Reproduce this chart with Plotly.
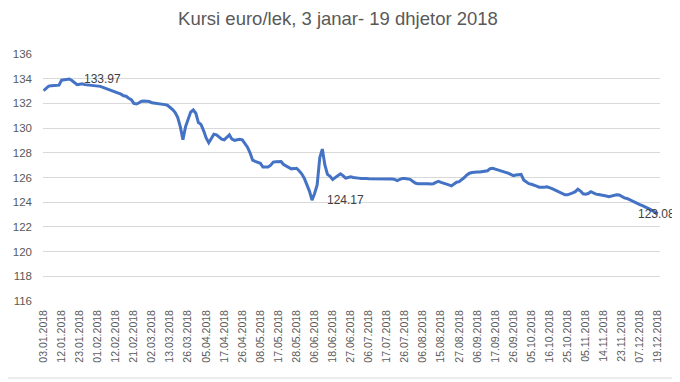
import plotly.graph_objects as go

title_text = "Kursi euro/lek, 3 janar- 19 dhjetor 2018"

tick_labels = [
    "03.01.2018", "12.01.2018", "23.01.2018", "01.02.2018", "12.02.2018",
    "21.02.2018", "02.03.2018", "13.03.2018", "26.03.2018", "05.04.2018",
    "17.04.2018", "26.04.2018", "08.05.2018", "17.05.2018", "28.05.2018",
    "06.06.2018", "18.06.2018", "27.06.2018", "06.07.2018", "17.07.2018",
    "26.07.2018", "06.08.2018", "15.08.2018", "27.08.2018", "06.09.2018",
    "17.09.2018", "26.09.2018", "05.10.2018", "16.10.2018", "25.10.2018",
    "05.11.2018", "14.11.2018", "23.11.2018", "07.12.2018", "19.12.2018",
]

# daily euro/lek rate (business days), one value per trading day
rates = [
    133.03, 133.25, 133.40, 133.42, 133.42, 133.43, 133.48,
    133.88, 133.92, 133.95, 133.97, 133.85, 133.72, 133.52,
    133.55, 133.58, 133.52, 133.50, 133.47, 133.45, 133.43,
    133.40, 133.38, 133.30, 133.22, 133.15, 133.08, 133.02,
    132.95, 132.88, 132.75, 132.62, 132.58, 132.42, 132.30,
    132.00, 131.95, 132.05, 132.18, 132.20, 132.18, 132.15,
    132.05, 132.02, 132.00, 132.00, 131.98, 131.90, 131.85,
    131.70, 131.50, 131.25, 130.85, 130.10, 129.05, 130.10,
    130.80, 131.30, 131.48, 131.20, 130.45, 130.30, 129.80,
    129.20, 128.82, 129.15, 129.50, 129.45, 129.30, 129.10,
    129.05, 129.25, 129.45, 129.10, 129.00, 129.05, 129.10,
    129.05, 128.75, 128.45, 128.00, 127.40, 127.30, 127.25,
    127.15, 126.85, 126.85, 126.85, 127.00, 127.25, 127.28,
    127.28, 127.30, 127.05, 126.95, 126.80, 126.70, 126.72,
    126.75, 126.55, 126.30, 125.95, 125.40, 124.90, 124.17,
    124.70, 125.40, 127.60, 128.30, 127.00, 126.25, 126.10,
    125.85, 126.00, 126.10, 126.30, 126.15, 125.95, 126.00,
    126.05, 126.00, 125.95, 125.95, 125.92, 125.95, 125.92,
    125.90, 125.90, 125.92, 125.90, 125.90, 125.90, 125.90,
    125.88, 125.90, 125.88, 125.85, 125.75, 125.85, 125.92,
    125.92, 125.88, 125.85, 125.70, 125.55, 125.50, 125.50,
    125.50, 125.55, 125.50, 125.48, 125.50, 125.60, 125.68,
    125.60, 125.55, 125.50, 125.40, 125.32, 125.50, 125.62,
    125.66, 125.80, 126.00, 126.20, 126.35, 126.40, 126.45,
    126.45, 126.45, 126.50, 126.50, 126.55, 126.72, 126.75,
    126.68, 126.60, 126.55, 126.50, 126.42, 126.35, 126.25,
    126.15, 126.20, 126.25, 126.25, 125.80, 125.62, 125.50,
    125.45, 125.40, 125.30, 125.22, 125.20, 125.22, 125.25,
    125.20, 125.10, 125.00, 124.90, 124.85, 124.72, 124.60,
    124.60, 124.65, 124.75, 124.85, 125.05, 124.90, 124.68,
    124.65, 124.70, 124.85, 124.75, 124.65, 124.62, 124.60,
    124.55, 124.50, 124.45, 124.50, 124.58, 124.60, 124.58,
    124.45, 124.35, 124.30, 124.20, 124.05, 123.95, 123.85,
    123.80, 123.72, 123.64, 123.55, 123.42, 123.30, 123.15,
    123.08,
]

label_step = 7
x_idx = list(range(len(rates)))
tick_pos = [i * label_step for i in range(len(tick_labels))]

# points with data labels: (index, xshift, yshift)
labeled = [(10, 13, 0), (104, 13, 0), (len(rates) - 1, -22, 0)]

FONT = "Liberation Sans"
GRAY = "#595959"
GRID = "#d9d9d9"

fig = go.Figure()
fig.add_trace(go.Scatter(
    x=x_idx, y=rates, mode="lines",
    line=dict(color="#4472C4", width=3),
    hoverinfo="y",
))

for idx, xs, ys in labeled:
    fig.add_annotation(
        x=idx, y=rates[idx], text=f"{rates[idx]:.2f}", showarrow=False,
        xanchor="left", yanchor="middle", xshift=xs, yshift=ys,
        font=dict(family=FONT, size=12, color="#404040"),
    )

# page body has an 8px default margin, so work in offset coordinates
OFF = 8
W, H = 680 - OFF, 382 - OFF
ml, mr, mt, mb = 43 - OFF, W - (660 - OFF), 54 - OFF, H - (301 - OFF)
pw, ph = W - ml - mr, H - mt - mb

def px_x(px):
    return (px - OFF - ml) / pw

def px_y(py):
    return (H - mb - (py - OFF)) / ph

# chart-area border (right and bottom edges visible)
fig.add_shape(type="line", xref="paper", yref="paper",
              x0=px_x(673), x1=px_x(673), y0=px_y(378), y1=px_y(0),
              line=dict(color=GRID, width=1), layer="below")
fig.add_shape(type="line", xref="paper", yref="paper",
              x0=px_x(0), x1=px_x(673), y0=px_y(378), y1=px_y(378),
              line=dict(color=GRID, width=1), layer="below")

fig.update_layout(
    width=W, height=H,
    margin=dict(l=ml, r=mr, t=mt, b=mb, autoexpand=False),
    paper_bgcolor="white", plot_bgcolor="white",
    showlegend=False,
    title=dict(
        text=title_text, x=(338 - OFF) / W, xref="container", xanchor="center",
        y=1 - (19 - OFF) / H, yanchor="middle",
        font=dict(family=FONT, size=18.5, color=GRAY),
    ),
    xaxis=dict(
        range=[-0.2, len(rates) - 1 + 0.8],
        tickmode="array", tickvals=tick_pos, ticktext=tick_labels,
        tickangle=-90, showgrid=False, zeroline=False,
        showline=False, ticks="", automargin=False,
        tickfont=dict(family=FONT, size=10.5, color=GRAY),
        ticklabelstandoff=6,
    ),
    yaxis=dict(
        range=[116, 136], dtick=2, tick0=116,
        showgrid=True, gridcolor=GRID, gridwidth=1,
        zeroline=False, showline=False, ticks="", automargin=False,
        tickfont=dict(family=FONT, size=11.5, color=GRAY),
        ticklabelstandoff=10,
    ),
)

fig.write_html("out.html")
